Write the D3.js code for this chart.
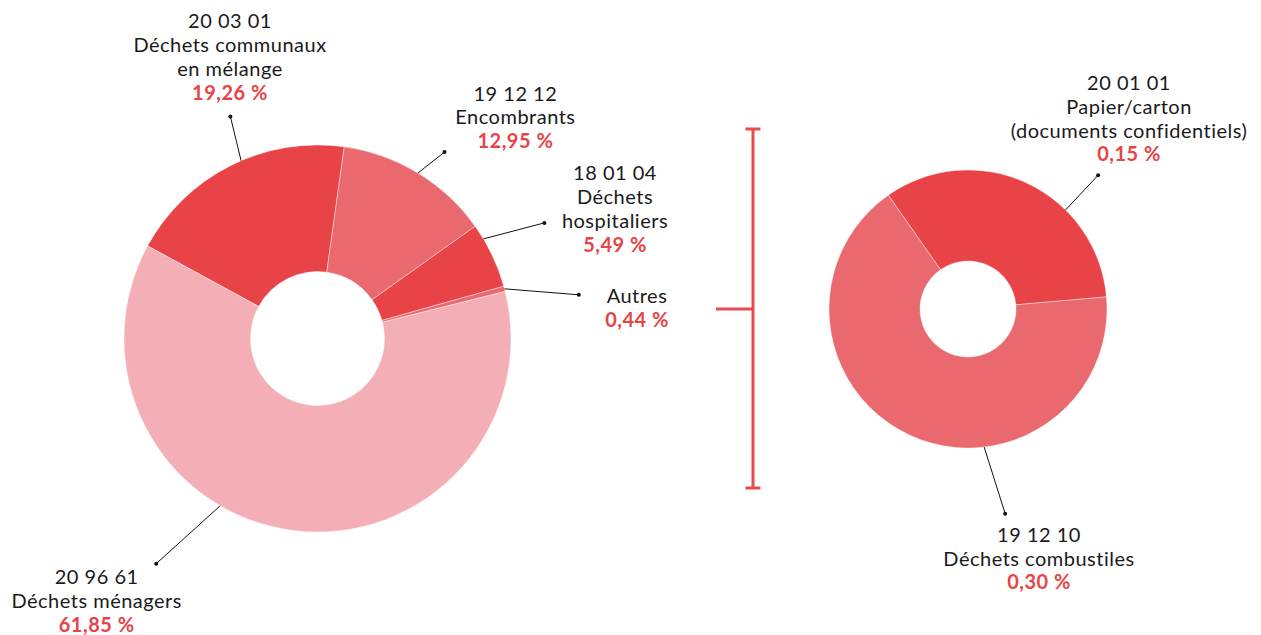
<!DOCTYPE html>
<html>
<head>
<meta charset="utf-8">
<script src="https://cdn.jsdelivr.net/npm/d3@7"></script>
<style>
  body { margin: 0; background: #fff; }
  text { font-family: Lato, "Open Sans", sans-serif; font-size: 20px; fill: #1a1a1a; letter-spacing: 0.5px; }
  text.pct { font-weight: 700; fill: #e84346; }
  .leader { stroke: #111; stroke-width: 1; fill: none; }
  .bracket { stroke: #e84a4d; stroke-width: 3; fill: none; }
</style>
</head>
<body>
<div id="chart"></div>
<script>
// main donut
let mainCodes = ["20 03 01", "19 12 12", "18 01 04", "", "20 96 61"]
let mainNames = [["Déchets communaux", "en mélange"], ["Encombrants"], ["Déchets", "hospitaliers"], ["Autres"], ["Déchets ménagers"]]
let mainValues = [19.26, 12.95, 5.49, 0.44, 61.85]
let mainPct = ["19,26 %", "12,95 %", "5,49 %", "0,44 %", "61,85 %"]

// detail of "Autres"
let otherCodes = ["20 01 01", "19 12 10"]
let otherNames = [["Papier/carton", "(documents confidentiels)"], ["Déchets combustiles"]]
let otherValues = [0.15, 0.30]
let otherPct = ["0,15 %", "0,30 %"]

let width = 1261
let height = 635
let lineH = 23.8
let deg = Math.PI / 180

let svg = d3.select("#chart").append("svg")
    .attr("width", width)
    .attr("height", height)

// label placement: text centre / first baseline, where the leader leaves the slice (t), and dot offset
let mainLayout = [
    {x: 230, y: 28.3, t: 0.55, dx: -10.7, dy: -44.3},
    {x: 515.4, y: 100.5, t: 0.5, dx: 26.6, dy: -21},
    {x: 615, y: 180.3, t: 0.225, dx: 61, dy: -16},
    {x: 637, y: 302.7, t: 0.5, dx: 74.3, dy: 6},
    {x: 96.7, y: 584, t: 0.603, dx: -64, dy: 58}
]
let otherLayout = [
    {x: 1129, y: 90, t: 0.663, dx: 32.6, dy: -34.7},
    {x: 1039, y: 541.7, t: 0.368, dx: 21, dy: 66.6}
]

function donut(cfg) {
    let pie = d3.pie().sort(null)
        .startAngle(cfg.start * deg)
        .endAngle(cfg.start * deg + 2 * Math.PI)
    let arcs = pie(cfg.values)
    let arc = d3.arc().innerRadius(cfg.r0).outerRadius(cfg.r1)

    let g = svg.append("g")
        .attr("transform", "translate(" + cfg.cx + "," + cfg.cy + ")")
    g.selectAll("path.slice")
        .data(arcs)
        .enter().append("path")
        .attr("class", "slice")
        .attr("d", arc)
        .attr("fill", (d, i) => cfg.colors[i])
        .attr("stroke", "#fff")
        .attr("stroke-width", 0.4)

    arcs.forEach((d, i) => {
        let lay = cfg.layout[i]
        let a = d.startAngle + (d.endAngle - d.startAngle) * lay.t
        let x0 = cfg.cx + Math.sin(a) * cfg.r1
        let y0 = cfg.cy - Math.cos(a) * cfg.r1
        let x1 = x0 + lay.dx
        let y1 = y0 + lay.dy
        svg.append("line")
            .attr("class", "leader")
            .attr("x1", x0).attr("y1", y0)
            .attr("x2", x1).attr("y2", y1)
        svg.append("circle")
            .attr("cx", x1).attr("cy", y1)
            .attr("r", 2)
            .attr("fill", "#111")

        let lines = (cfg.codes[i] ? [cfg.codes[i]] : []).concat(cfg.names[i])
        let txt = svg.append("text")
            .style("text-anchor", "middle")
            .attr("x", lay.x)
            .attr("y", lay.y)
        lines.forEach((l, k) => {
            txt.append("tspan")
                .attr("x", lay.x)
                .attr("dy", k == 0 ? 0 : lineH)
                .text(l)
        })
        svg.append("text")
            .attr("class", "pct")
            .style("text-anchor", "middle")
            .attr("x", lay.x)
            .attr("y", lay.y + lines.length * lineH)
            .text(cfg.pct[i])
    })
}

donut({
    values: mainValues, codes: mainCodes, names: mainNames, pct: mainPct,
    layout: mainLayout, start: -61.4,
    cx: 317.5, cy: 338.5, r0: 67, r1: 193.5,
    colors: ["#e84346", "#e9696e", "#e84346", "#e9696e", "#f4afb6"]
})

donut({
    values: otherValues, codes: otherCodes, names: otherNames, pct: otherPct,
    layout: otherLayout, start: -35,
    cx: 968, cy: 309, r0: 48, r1: 139,
    colors: ["#e84346", "#e9696e"]
})

// bracket linking "Autres" to its detail
let bx = 753, bTop = 129, bBottom = 488, bMid = 309
let br = svg.append("g").attr("class", "bracket")
br.append("line").attr("x1", bx).attr("x2", bx).attr("y1", bTop).attr("y2", bBottom)
br.append("line").attr("x1", bx - 7.5).attr("x2", bx + 7.5).attr("y1", bTop).attr("y2", bTop)
br.append("line").attr("x1", bx - 7.5).attr("x2", bx + 7.5).attr("y1", bBottom).attr("y2", bBottom)
br.append("line").attr("x1", 716).attr("x2", bx).attr("y1", bMid).attr("y2", bMid)
</script>
</body>
</html>
